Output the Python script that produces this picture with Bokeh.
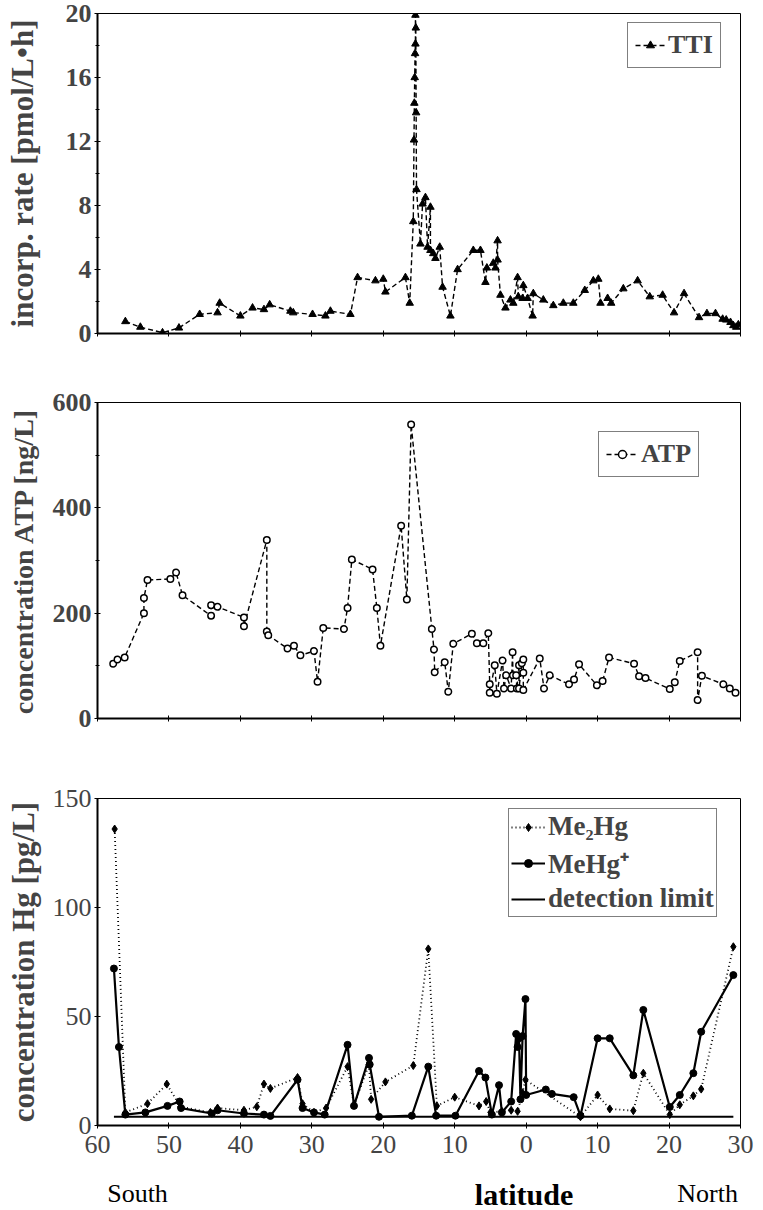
from bokeh.plotting import figure
from bokeh.layouts import column
from bokeh.models import FixedTicker, Legend, LegendItem, Range1d
from bokeh.core.properties import value
from bokeh.embed import file_html
from bokeh.resources import INLINE

FONT = "Liberation Serif"

# ---------------- data (signed latitude: south < 0, north > 0) ----------------
lat_ticks = [-60, -50, -40, -30, -20, -10, 0, 10, 20, 30]
lat_tick_labels = ["60", "50", "40", "30", "20", "10", "0", "10", "20", "30"]

tti_lat = [-56.1, -54.0, -50.9, -48.6, -45.7, -43.2, -42.9, -40.0, -38.3, -36.7,
           -35.9, -33.0, -32.6, -29.9, -28.1, -27.4, -24.6, -23.6, -21.1, -20.0,
           -19.7, -16.9, -16.3, -15.8, -15.7, -15.65, -15.6, -15.55, -15.5, -15.5,
           -15.45, -15.4, -15.35, -14.8, -14.5, -14.1, -13.8, -13.4, -13.4, -13.0,
           -12.7, -12.1, -11.7, -10.6, -9.6, -7.4, -6.4, -5.7, -5.5, -4.6,
           -4.3, -4.0, -4.0, -3.6, -2.9, -2.2, -1.8, -1.2, -1.1, -0.5,
           -0.4, 0.2, 0.9, 1.0, 2.4, 3.8, 5.2, 6.6, 8.2, 9.4,
           10.1, 10.4, 11.4, 11.9, 13.6, 15.6, 17.3, 19.1, 20.7, 22.1,
           24.2, 25.3, 26.5, 27.5, 28.0, 28.6, 29.0, 29.4, 29.7]
tti_val = [0.75, 0.4, 0.05, 0.35, 1.2, 1.3, 1.9, 1.1, 1.6, 1.5,
           1.8, 1.4, 1.3, 1.2, 1.1, 1.4, 1.2, 3.5, 3.3, 3.4,
           2.6, 3.5, 1.9, 7.0, 12.1, 14.4, 16.0, 17.5, 18.1, 19.9,
           19.1, 13.8, 9.0, 5.6, 8.1, 8.5, 5.4, 7.9, 5.2, 5.0,
           4.7, 5.4, 2.9, 1.1, 4.0, 5.2, 5.2, 3.2, 4.1, 4.4,
           4.1, 5.8, 4.6, 2.4, 1.6, 2.1, 1.9, 3.5, 2.3, 2.2,
           3.0, 2.2, 1.1, 2.5, 2.1, 1.75, 1.9, 1.9, 2.7, 3.3,
           3.4, 1.9, 2.2, 1.9, 2.8, 3.3, 2.3, 2.4, 1.3, 2.5,
           1.0, 1.25, 1.25, 0.9, 0.85, 0.7, 0.5, 0.4, 0.55]

atp_lat = [-57.8, -57.2, -56.2, -53.5, -53.5, -53.0, -49.8, -49.0, -48.1, -44.1,
           -44.1, -43.2, -39.5, -39.5, -36.3, -36.3, -36.1, -33.4, -32.5, -31.6,
           -29.7, -29.2, -28.4, -25.5, -25.0, -24.4, -21.5, -20.9, -20.4, -17.5,
           -16.7, -16.1, -13.2, -12.9, -12.8, -11.4, -10.9, -10.2, -7.6, -6.9,
           -6.0, -5.3, -5.1, -5.1, -4.4, -4.1, -3.3, -3.1, -2.8, -2.1,
           -1.9, -1.85, -1.4, -1.3, -1.0, -1.0, -0.6, -0.4, -0.4, -0.4,
           1.9, 2.5, 3.3, 6.0, 6.7, 7.4, 9.9, 10.7, 11.6, 15.1,
           15.8, 16.7, 20.1, 20.8, 21.5, 24.0, 24.0, 24.6, 27.6, 28.5,
           29.3]
atp_val = [104, 112, 116, 200, 229, 263, 265, 277, 234, 195,
           215, 212, 192, 175, 339, 165, 158, 133, 138, 120,
           128, 70, 172, 170, 210, 302, 283, 210, 138, 366,
           226, 558, 170, 131, 88, 107, 51, 142, 161, 143,
           143, 162, 65, 49, 101, 47, 110, 57, 82, 57,
           126, 82, 82, 57, 101, 57, 105, 112, 87, 54,
           114, 57, 82, 65, 74, 103, 63, 71, 116, 104,
           80, 77, 56, 69, 109, 126, 35, 81, 65, 57,
           49]

me2hg_lat = [-57.6, -56.1, -53.0, -50.3, -48.4, -44.2, -43.2, -39.5, -37.7, -36.7,
             -35.8, -32.0, -31.3, -29.7, -28.0, -25.0, -24.1, -22.0, -21.7, -19.7,
             -15.8, -13.7, -12.5, -10.0, -6.6, -5.6, -5.0, -3.4, -2.1, -1.2,
             -0.5, -0.1, 7.6, 10.0, 11.7, 15.0, 16.4, 20.1, 21.5, 23.4,
             24.5, 29.0]
me2hg_val = [136, 6, 10, 19, 8.6, 6, 8, 7, 8.6, 19,
             17, 22, 10, 6, 8, 27, 9.4, 28, 12, 20,
             27.5, 81, 9, 13, 9, 11, 6, 6.5, 7, 6.5,
             15, 21, 4, 14, 7.6, 6.8, 24, 5, 9.5, 13.6,
             16.7, 82]

mehg_lat = [-57.7, -57.0, -56.1, -53.3, -50.2, -48.5, -48.3, -44.0, -43.2, -39.5,
            -36.7, -35.8, -32.0, -31.3, -29.7, -28.2, -25.0, -24.1, -22.0, -21.9,
            -20.6, -16.0, -13.7, -12.6, -9.9, -6.6, -5.7, -4.8, -3.8, -3.4,
            -2.1, -1.4, -1.2, -1.0, -0.8, -0.5, -0.1, 0.0, 2.75, 3.6,
            6.65, 7.6, 10.0, 11.7, 15.0, 16.4, 20.1, 21.5, 23.4, 24.5,
            29.0]
mehg_val = [72, 36, 5, 6, 9, 11, 8, 5.5, 7, 5.5,
            5, 4.4, 21, 8, 6, 5, 37, 9, 31, 28,
            4, 4.5, 27, 4.5, 4.5, 25, 22, 5, 18.5, 6,
            11, 42, 36, 40, 12, 41, 58, 14, 16.5, 14.5,
            13, 4.5, 40, 40, 23, 53, 8.5, 14, 24, 43,
            69]

detection_lat = [-57.7, 29.0]
detection_val = [4, 4]

bottom_words = ["South", "North"]
bottom_words_lat = [-54.4, 25.4]
axis_word = ["latitude"]
axis_word_lat = [-0.3]


def make_fig(height, b_top, b_bottom, y_end, yticks, yminor, ylabel, label_size,
             standoff, tick_bold, show_xlabels):
    p = figure(width=763, height=height, x_range=Range1d(-60, 30),
               y_range=Range1d(0, y_end), output_backend="svg",
               toolbar_location=None, min_border_left=97, min_border_right=23,
               min_border_top=b_top, min_border_bottom=b_bottom)
    p.grid.visible = False
    p.outline_line_color = "black"
    p.outline_line_width = 1
    p.background_fill_color = "white"
    p.border_fill_color = "white"

    ya = p.yaxis[0]
    ya.ticker = FixedTicker(ticks=yticks, minor_ticks=yminor)
    ya.axis_label = ylabel
    ya.axis_label_text_font = FONT
    ya.axis_label_text_font_style = "bold"
    ya.axis_label_text_font_size = label_size
    ya.axis_label_standoff = standoff
    ya.major_label_text_font = FONT
    ya.major_label_text_font_style = "bold" if tick_bold else "normal"
    ya.major_label_text_font_size = "26px"
    ya.axis_line_width = 2
    ya.major_tick_in = 3
    ya.major_tick_out = 3
    ya.minor_tick_in = 2
    ya.minor_tick_out = 2
    ya.major_label_standoff = 3

    xa = p.xaxis[0]
    xa.ticker = FixedTicker(ticks=lat_ticks)
    xa.axis_line_width = 2
    xa.major_tick_in = 3
    xa.major_tick_out = 3
    xa.minor_tick_line_color = None
    if show_xlabels:
        xa.major_label_overrides = {t: s for t, s in zip(lat_ticks, lat_tick_labels)}
        xa.major_label_text_font = FONT
        xa.major_label_text_font_size = "26px"
        xa.major_label_standoff = 7
    else:
        xa.major_label_text_color = None
        xa.major_label_text_font_size = "8px"
    return p


# ---------------- top: TTI ----------------
p1 = make_fig(360, 13, 27, 20, [0, 4, 8, 12, 16, 20], [2, 6, 10, 14, 18],
              "incorp. rate [pmol/L\u2022h]", "31px", 23, True, False)
l1 = p1.line(tti_lat, tti_val, line_color="black", line_width=1.4, line_dash="5 3")
s1 = p1.scatter(tti_lat, tti_val, marker="triangle", size=7.5, fill_color="black",
                line_color="black")
leg1 = Legend(items=[LegendItem(label="TTI", renderers=[l1, s1])], location=(530, 265))
p1.add_layout(leg1)

# ---------------- middle: ATP ----------------
p2 = make_fig(385, 42, 27, 600, [0, 200, 400, 600], [100, 300, 500],
              "concentration ATP [ng/L]", "28px", 11, True, False)
l2 = p2.line(atp_lat, atp_val, line_color="black", line_width=1.4, line_dash="5 3")
s2 = p2.scatter(atp_lat, atp_val, marker="circle", size=6.5, fill_color="white",
                line_color="black", line_width=1.5)
leg2 = Legend(items=[LegendItem(label="ATP", renderers=[l2, s2])], location=(501, 241))
p2.add_layout(leg2)

# ---------------- bottom: Hg ----------------
p3 = make_fig(430, 53, 50, 150, [0, 50, 100, 150], [],
              "concentration Hg [pg/L]", "31px", 9, False, True)
l3a = p3.line(me2hg_lat, me2hg_val, line_color="black", line_width=1.8, line_dash="1 3")
s3a = p3.scatter(me2hg_lat, me2hg_val, marker="diamond", size=8, fill_color="black",
                 line_color="black")
l3b = p3.line(mehg_lat, mehg_val, line_color="black", line_width=2.2)
s3b = p3.scatter(mehg_lat, mehg_val, marker="circle", size=7, fill_color="black",
                 line_color="black")
l3c = p3.line(detection_lat, detection_val, line_color="black", line_width=2)
leg3 = Legend(items=[LegendItem(label="Me\u2082Hg", renderers=[l3a, s3a]),
                     LegendItem(label="MeHg\u207a", renderers=[l3b, s3b]),
                     LegendItem(label="detection limit", renderers=[l3c])],
              location=(411, 208))
p3.add_layout(leg3)

for leg, size, gw, pad in ((leg1, "26px", 30, 7), (leg2, "26px", 32, 7),
                           (leg3, "27px", 34, 2)):
    leg.label_text_font = FONT
    leg.label_text_font_style = "bold"
    leg.label_text_font_size = size
    leg.border_line_color = "black"
    leg.border_line_width = 1
    leg.background_fill_alpha = 1
    leg.glyph_width = gw
    leg.label_standoff = 3
    leg.padding = pad
    leg.spacing = 2
    leg.margin = 0

# ---------------- bottom caption row ----------------
p4 = figure(width=763, height=35, x_range=Range1d(-60, 30), y_range=Range1d(0, 1),
            output_backend="svg", toolbar_location=None, min_border_left=97,
            min_border_right=23, min_border_top=0, min_border_bottom=0,
            x_axis_location=None, y_axis_location=None)
p4.outline_line_color = None
p4.grid.visible = False
p4.text(x=bottom_words_lat, y=[0.5] * len(bottom_words), text=bottom_words,
        text_font=value(FONT), text_font_size="26px", text_align="center",
        text_baseline="middle", text_color="black")
p4.text(x=axis_word_lat, y=[0.45], text=axis_word,
        text_font=value(FONT), text_font_style="bold", text_font_size="30px",
        text_align="center", text_baseline="middle", text_color="black")

layout = column(p1, p2, p3, p4, spacing=0)
open("out.html", "w").write(file_html(layout, INLINE))
